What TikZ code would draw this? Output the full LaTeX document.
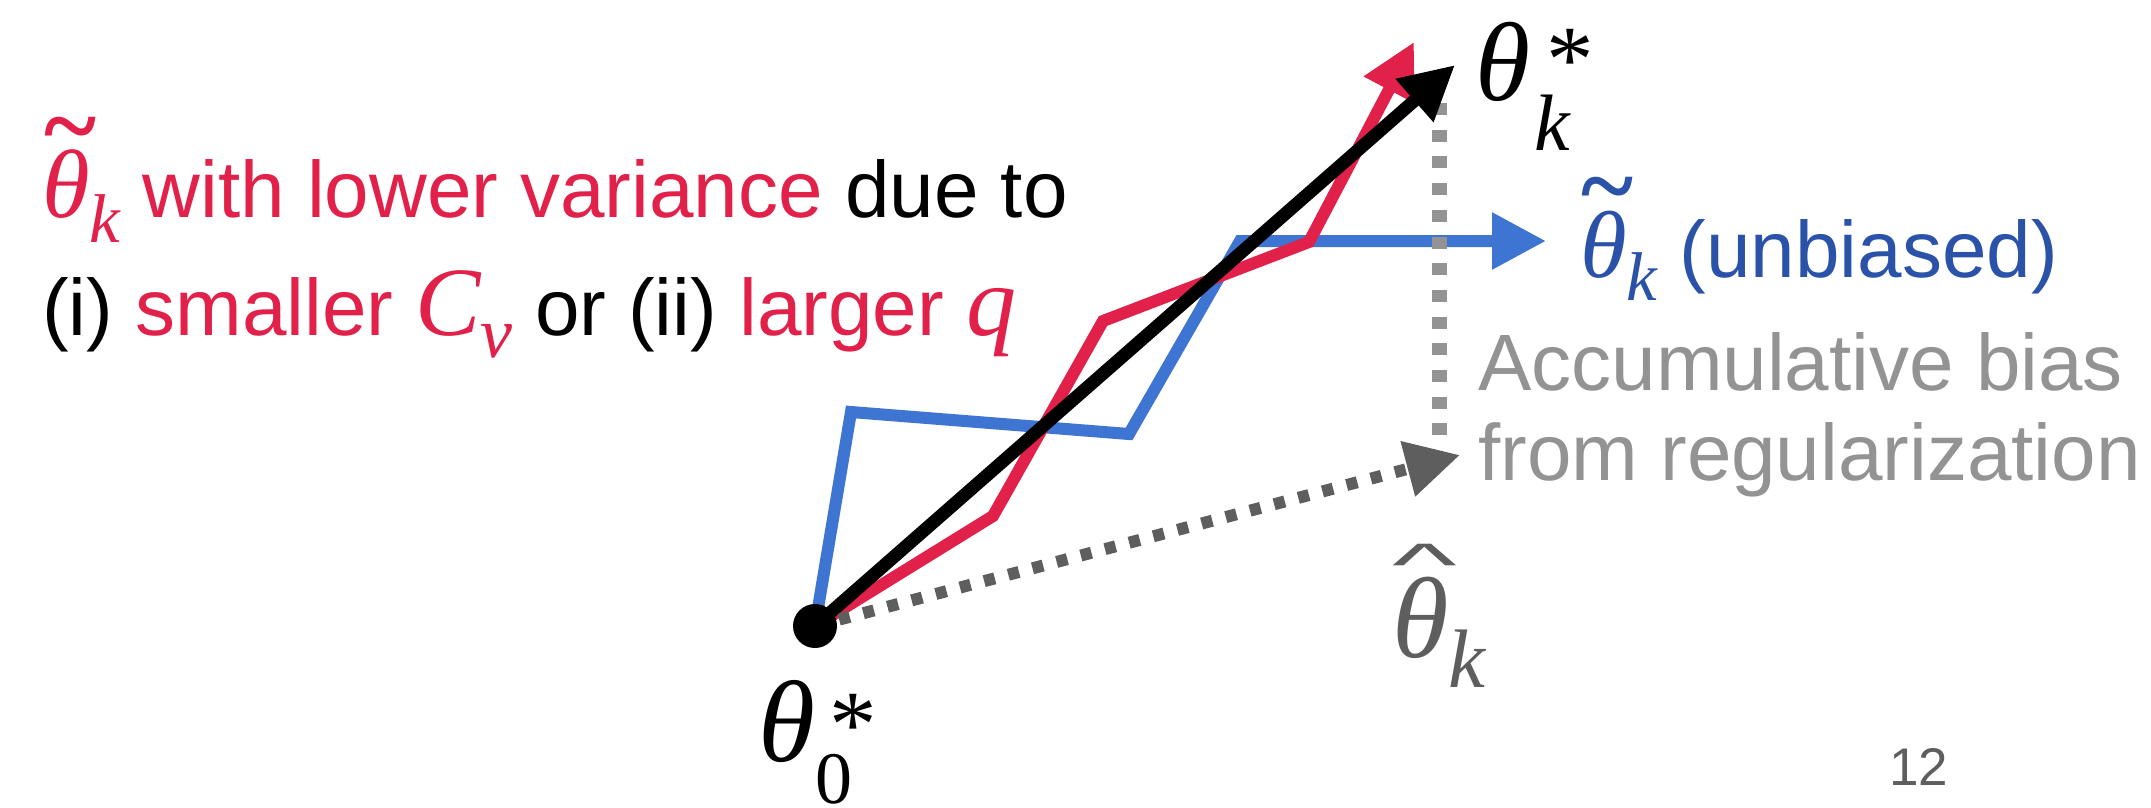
\RequirePackage{fix-cm}
\documentclass[tikz,border=0pt]{standalone}
\usepackage{fontspec}
\setmainfont{Liberation Sans}
\newfontfamily\tms{Liberation Serif}
\usetikzlibrary{arrows.meta}
\definecolor{myred}{HTML}{E2214B}
\definecolor{myblue}{HTML}{3E74D2}
\definecolor{bluetext}{HTML}{2A52A8}
\definecolor{lgray}{HTML}{939393}
\definecolor{dgray}{HTML}{5E5E5E}
\newcommand\Th{\tms\itshape θ}
\newcommand\fs[1]{\fontsize{#1}{#1}\selectfont}
% accent #2 over #1, raised by #3, shifted right by #4
\newcommand\accon[4]{\setbox0\hbox{#1}\rlap{\hspace{#4}\makebox[\wd0]{\raisebox{#3}{#2}}}\box0}
\newcommand\tildeacc{{\fs{100}\tms\bfseries\textasciitilde}}
\newcommand\hatacc{\scalebox{2.3}[1]{\fs{60}\textasciicircum}}
\begin{document}
\begin{tikzpicture}[x=1pt,y=-1pt,
  tip/.style={-{Triangle[length=54pt,width=54pt]}},
  lbl/.style={inner sep=0pt, anchor=base west, font=\fs{80}}]
\useasboundingbox (0,0) rectangle (2151,807);
\fill[white] (0,0) rectangle (2151,807);
% coordinates
\coordinate (oc) at (815,626);
\coordinate (b1) at (851,412);
\coordinate (b2) at (1129,434);
\coordinate (b3) at (1240,241);
\coordinate (btip) at (1546,241);
\coordinate (r1) at (993,516);
\coordinate (r2) at (1103,321);
\coordinate (r3) at (1309,242);
\coordinate (rtip) at (1414,42);
\coordinate (ktip) at (1455,65);
\coordinate (htip) at (1460,455);
\coordinate (vtop) at (1439,103);
\coordinate (vbot) at (1439,435);
% paths
\draw[myblue, line width=12pt, tip] (oc) -- (b1) -- (b2) -- (b3) -- (btip);
\draw[lgray, line width=15pt, dash pattern=on 12pt off 14.7pt] (vtop) -- (vbot);
\draw[myred, line width=12pt, tip] (oc) -- (r1) -- (r2) -- (r3) -- (rtip);
\draw[black, line width=13pt, tip] (oc) -- (ktip);
\draw[dgray, line width=12pt, dash pattern=on 11pt off 14pt, tip] (oc) -- (htip);
\node[circle, fill=black, inner sep=0pt, minimum size=44pt] (o) at (oc) {};
% left text
\node[lbl] (l1) at (42,217) {{\color{myred}\accon{\fs{97}\Th}{\tildeacc}{58pt}{4pt}\raisebox{-25pt}{\fs{69}\tms\itshape k}} {\color{myred}with lower variance} due to};
\node[lbl] (l2) at (42,335) {(i) {\color{myred}smaller {\fs{98}\tms\itshape C}\raisebox{-22pt}{\fs{72}\tms\itshape v}} or (ii) {\color{myred}larger {\fs{100}\tms\itshape q}}};
% right labels
\node[lbl] (ks) at (1475,100) {{\fs{112}\Th}\rlap{\hspace{16pt}\raisebox{9pt}{\fs{95}\tms *}}\hspace{4pt}\raisebox{-50pt}{\fs{80}\tms\itshape k}};
\node[lbl, text=bluetext] (tk) at (1580,277) {\accon{\fs{95}\Th}{\tildeacc}{58pt}{4pt}\raisebox{-23pt}{\fs{69}\tms\itshape k} (unbiased)};
\node[lbl, text=lgray] (a1) at (1478,390) {Accumulative bias};
\node[lbl, text=lgray] (a2) at (1478,480) {from regularization};
\node[lbl, text=dgray] (hk) at (1392,657) {\accon{\fs{115}\Th}{\hatacc}{72pt}{4pt}\raisebox{-30pt}{\fs{83}\tms\itshape k}};
\node[lbl] (z0) at (758,761) {{\fs{116}\Th}\rlap{\hspace{14pt}\raisebox{5pt}{\fs{95}\tms *}}\raisebox{-42pt}{\fs{74}\tms 0}};
\node[lbl, text=dgray, font=\fs{53}] (pg) at (1889,785) {12};
\end{tikzpicture}
\end{document}
